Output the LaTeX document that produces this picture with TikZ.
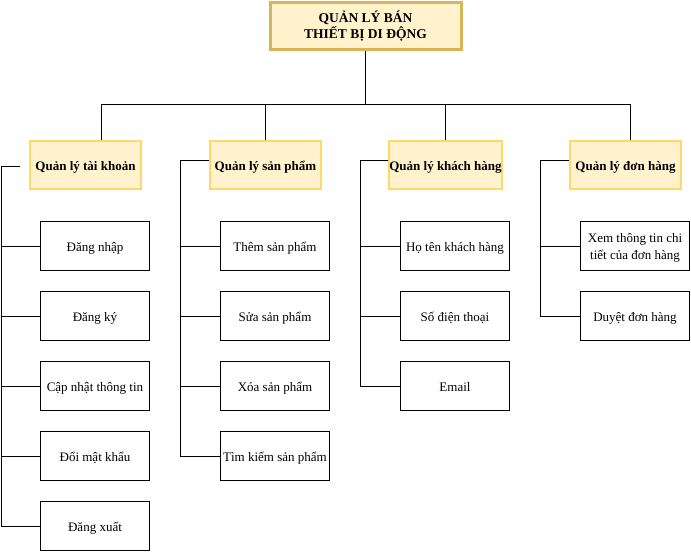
\documentclass[tikz,border=0pt]{standalone}
\usepackage{fontspec}
\setmainfont{Liberation Serif}
\usetikzlibrary{positioning}
\definecolor{vang}{HTML}{FFF2CC}
\definecolor{vienvang}{HTML}{FFD966}
\definecolor{vienngoc}{HTML}{D6B656}
\begin{document}
\begin{tikzpicture}[x=1pt,y=-1pt,line width=1pt,
                gocbox/.style={draw=vienngoc,fill=vang,line width=3pt,minimum width=191pt,minimum height=47pt,align=center,font=\fontsize{13.5}{16}\selectfont\bfseries},
                nhombox/.style={draw=vienvang,fill=vang,line width=2pt,inner sep=0pt,minimum width=111pt,minimum height=48pt,text height=11pt,text depth=0pt,font=\fontsize{13}{16}\selectfont\bfseries},
                labox/.style={draw,inner sep=2pt,minimum width=109pt,minimum height=49pt,align=center,font=\fontsize{13}{16.5}\selectfont},
                motdong/.style={labox,text height=10pt,text depth=0pt}]
                \useasboundingbox (0,0) rectangle (691,552);
                % goc va nhom
                \node (goc) [gocbox] at (365.5,26) {QUẢN LÝ BÁN\\THIẾT BỊ DI ĐỘNG};
                \node (tk) [nhombox] at (85.5,165) {Quản lý tài khoản};
                \node (sp) [nhombox] at (265.5,165) {Quản lý sản phẩm};
                \node (kh) [nhombox] at (445.5,165) {Quản lý khách hàng};
                \node (dh) [nhombox] at (625.5,165) {Quản lý đơn hàng};
                % tai khoan
                \node (dn) [motdong] at (95,246) {Đăng nhập};
                \node (dk) [motdong,below=20pt of dn] {Đăng ký};
                \node (cn) [motdong,below=20pt of dk] {Cập nhật thông tin};
                \node (dm) [motdong,below=20pt of cn] {Đổi mật khẩu};
                \node (dx) [motdong,below=20pt of dm] {Đăng xuất};
                % san pham
                \node (them) [motdong] at (275,246) {Thêm sản phẩm};
                \node (sua) [motdong,below=20pt of them] {Sửa sản phẩm};
                \node (xoa) [motdong,below=20pt of sua] {Xóa sản phẩm};
                \node (tim) [motdong,below=20pt of xoa] {Tìm kiếm sản phẩm};
                % khach hang
                \node (ht) [motdong] at (455,246) {Họ tên khách hàng};
                \node (sdt) [motdong,below=20pt of ht] {Số điện thoại};
                \node (em) [motdong,below=20pt of sdt] {Email};
                % don hang
                \node (xem) [labox] at (635,246) {\rule{0pt}{13pt}Xem thông tin chi\\tiết của đơn hàng};
                \node (duyet) [motdong,below=20pt of xem] {Duyệt đơn hàng};
                % duong noi
                \coordinate (bus) at (365.5,104.5);
                \draw (goc) -- (bus);
                \draw ([xshift=15.5pt]tk.north) |- (bus) -| ([xshift=4.5pt]dh.north);
                \draw (sp.north) -- (sp.north |- bus);
                \draw (kh.north) -- (kh.north |- bus);
                \coordinate (tkd) at (1.5,166.5);
                \coordinate (spd) at (180.5,160.5);
                \coordinate (khd) at (360.5,160.5);
                \coordinate (dhd) at (540.5,160.5);
                \draw ([xshift=-9pt,yshift=-1.5pt]tk.west) -- (tkd) |- (dx.west);
                \draw ([yshift=4.5pt]sp.west) -- (spd) |- (tim.west);
                \draw ([yshift=4.5pt]kh.west) -- (khd) |- (em.west);
                \draw ([yshift=4.5pt]dh.west) -- (dhd) |- (duyet.west);
                \foreach \n in {dn,dk,cn,dm} \draw (tkd |- \n.west) -- (\n.west);
                \foreach \n in {them,sua,xoa} \draw (spd |- \n.west) -- (\n.west);
                \foreach \n in {ht,sdt} \draw (khd |- \n.west) -- (\n.west);
                \draw (dhd |- xem.west) -- (xem.west);
\end{tikzpicture}
\end{document}
